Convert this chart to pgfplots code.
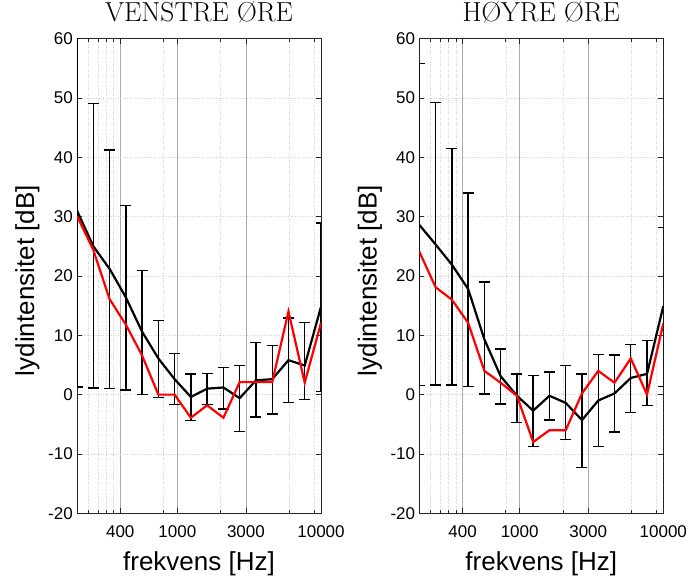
\documentclass[border=0pt]{standalone}
\usepackage{pgfplots}
\usepackage{pgfplotstable}
\pgfplotsset{compat=1.18}
\usepackage{fontspec}
\newfontfamily\helv{Liberation Sans}

\pgfplotstableread{
f       m     u     l     r
200     31.0  62.0  1.3   30.1
259.59  25.0  49.0  1.1   24.4
336.95  21.2  41.2  1.0   16.1
437.35  16.4  31.9  0.8   11.8
567.66  10.6  20.9  0.0   6.6
736.80  6.1   12.5  -0.5  0.0
956.35  2.6   6.9   -1.7  0.0
1241.3  -0.4  3.5   -4.4  -3.9
1611.2  1.0   3.6   -1.7  -1.8
2091.3  1.2   4.6   -2.4  -3.9
2714.4  -0.6  4.9   -6.2  2.1
3523.2  2.4   8.8   -3.8  2.1
4573.0  2.6   8.3   -3.3  2.1
5935.7  5.8   12.9  -1.3  14.0
7704.4  4.9   12.1  -0.8  2.0
10000   14.8  28.9  0.5   12.1
}\leftdata

\pgfplotstableread{
f       m     u     l     r
200     28.6  55.8  1.5   24.1
259.59  25.3  49.2  1.6   18.1
336.95  21.9  41.5  1.6   16.0
437.35  17.8  34.0  1.4   12.1
567.66  9.3   19.0  0.1   4.0
736.80  3.1   7.7   -1.6  2.0
956.35  -0.2  3.5   -4.7  -0.2
1241.3  -2.7  3.2   -8.7  -8.0
1611.2  -0.2  3.8   -4.3  -6.0
2091.3  -1.4  4.9   -7.6  -6.0
2714.4  -4.3  3.5   -12.3 0.2
3523.2  -1.0  6.8   -8.7  4.0
4573.0  0.2   6.7   -6.3  2.0
5935.7  2.8   8.4   -3.0  6.1
7704.4  3.5   9.1   -1.8  0.0
10000   14.9  28.2  1.4   12.0
}\rightdata

\pgfplotsset{
  every axis/.append style={
    scale only axis, width=244pt, height=474.8pt,
    xmin=200, xmax=10000, ymin=-20, ymax=60,
    xtick={400,1000,3000,10000}, xticklabels={400,1000,3000,10000},
    minor xtick={240,280,320,360,800,2000,6000,9000},
    ytick={-20,-10,0,10,20,30,40,50,60},
    yticklabels={-20,-10,0,10,20,30,40,50,60},
    xmajorgrids, xminorgrids, ymajorgrids,
    axis line style={black!85, line width=0.8pt},
    tick style={black!85, line width=0.6pt},
    major tick length=5pt, minor tick length=3.5pt,
    tick align=inside,
    ticklabel style={font=\helv\fontsize{17}{17}\selectfont},
    xticklabel style={inner sep=0pt, anchor=center, yshift=-18.7pt},
    yticklabel style={inner sep=0pt, anchor=east, xshift=-4pt},
    title style={font=\fontsize{27.5}{27.5}\selectfont, at={(axis description cs:0.5,1.0432)}, anchor=center},
    xlabel style={font=\helv\fontsize{26}{26}\selectfont, at={(axis description cs:0.5,-0.1053)}, anchor=center},
    ylabel style={font=\helv\fontsize{26}{26}\selectfont, at={(axis description cs:-0.203,0.49)}, anchor=center},
  },
  every major x grid/.style={gray!65, solid, line width=0.6pt},
  every minor x grid/.style={gray!35, dotted, line width=0.5pt},
  every major y grid/.style={gray!35, dotted, line width=0.5pt},
}

\begin{document}
\begin{tikzpicture}
\useasboundingbox (0,0) rectangle (692pt,578pt);
\begin{semilogxaxis}[at={(77pt,64.7pt)}, anchor=south west, title={VENSTRE ØRE},
  xlabel={frekvens [Hz]}, ylabel={lydintensitet [dB]}]
\addplot[black, line width=2.2pt, mark=none,
  error bars/.cd, y dir=both, y explicit,
  error bar style={line width=1.4pt, black},
  error mark options={rotate=90, black, line width=1.4pt, mark size=5.5pt}]
  table[x=f, y=m, y error plus expr=\thisrow{u}-\thisrow{m}, y error minus expr=\thisrow{m}-\thisrow{l}] {\leftdata};
\addplot[red, line width=2.2pt, mark=none] table[x=f, y=r] {\leftdata};
\end{semilogxaxis}
\begin{semilogxaxis}[at={(419.3pt,64.7pt)}, anchor=south west, title={HØYRE ØRE},
  xlabel={frekvens [Hz]}, ylabel={lydintensitet [dB]}]
\addplot[black, line width=2.2pt, mark=none,
  error bars/.cd, y dir=both, y explicit,
  error bar style={line width=1.4pt, black},
  error mark options={rotate=90, black, line width=1.4pt, mark size=5.5pt}]
  table[x=f, y=m, y error plus expr=\thisrow{u}-\thisrow{m}, y error minus expr=\thisrow{m}-\thisrow{l}] {\rightdata};
\addplot[red, line width=2.2pt, mark=none] table[x=f, y=r] {\rightdata};
\end{semilogxaxis}
\end{tikzpicture}
\end{document}
